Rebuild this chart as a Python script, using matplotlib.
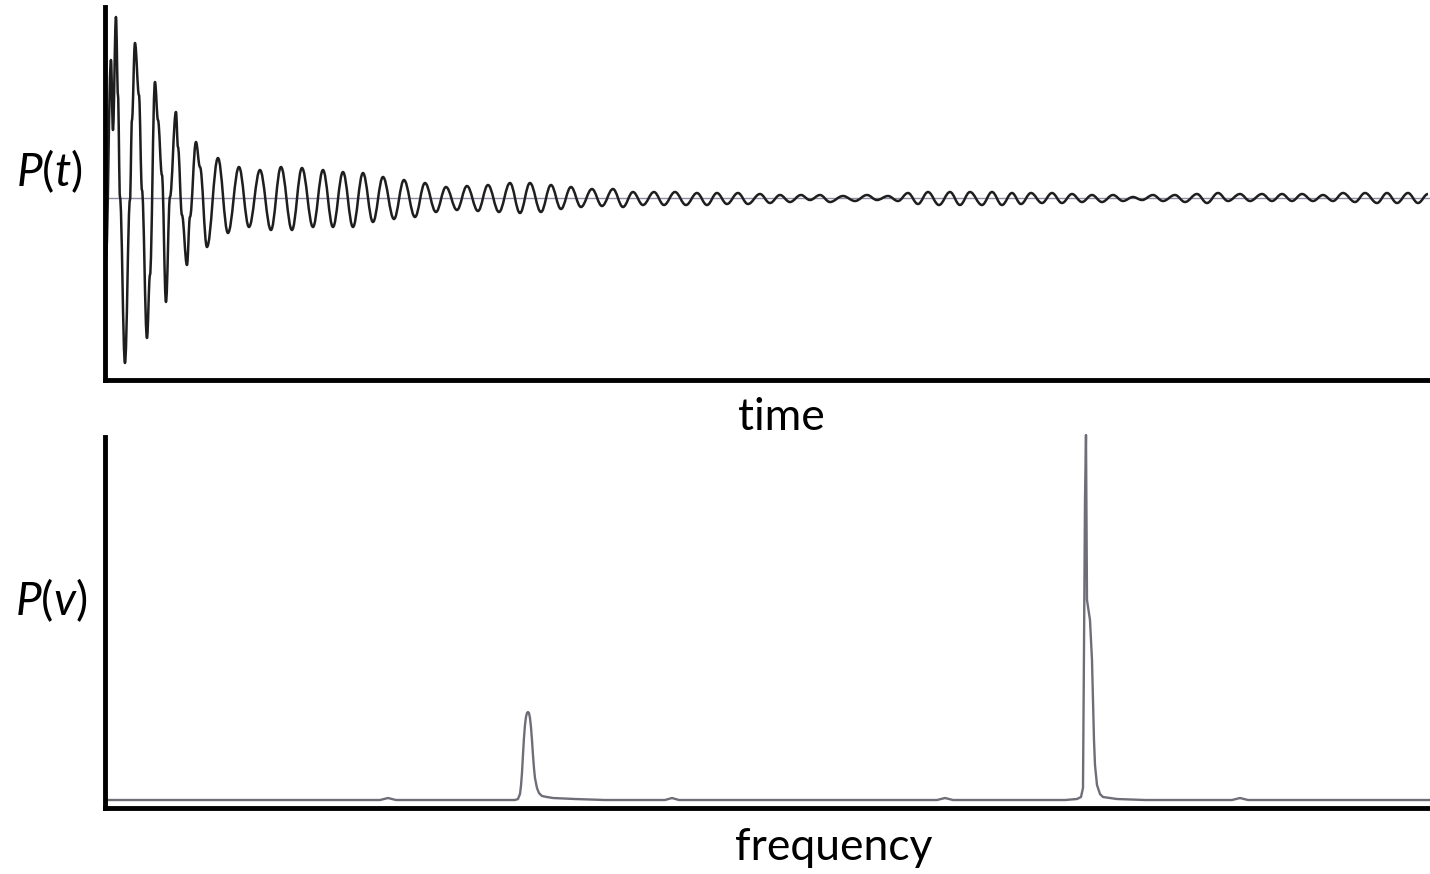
## FID signal and its spectrum
import numpy as np
import matplotlib
matplotlib.use("Agg")
import matplotlib.pyplot as plt
from matplotlib.path import Path
from matplotlib.patches import PathPatch

plt.rcParams['font.family'] = ['Lato', 'DejaVu Sans']
plt.rcParams['mathtext.fontset'] = 'custom'
plt.rcParams['mathtext.it'] = 'Lato:italic'
plt.rcParams['mathtext.rm'] = 'Lato'

# time signal (turning points and shoulders)
t_fid = [1, 6, 8, 11, 13, 15, 20, 25, 27, 30, 34, 37, 42, 45, 50, 53, 57, 61,
         65, 71, 73, 77, 82, 85, 91, 95, 102, 113, 123, 134, 144, 155, 166,
         176, 187, 197, 208, 218, 228, 238, 248, 258, 268, 278, 289, 299, 310,
         320, 331, 341, 352, 362, 373, 383, 394, 405, 415, 425, 436, 446, 456,
         466, 476, 487, 497, 508, 518, 528, 538, 549, 559, 570, 581, 592, 602,
         612, 622, 633, 643, 655, 665, 675, 685, 696, 705, 715, 725, 738, 750,
         762, 772, 783, 793, 803, 813, 823, 834, 845, 855, 865, 877, 887, 897,
         907, 916, 926, 937, 947, 957, 967, 977, 987, 997, 1008, 1018, 1028,
         1037, 1048, 1058, 1070, 1080, 1092, 1102, 1113, 1123, 1135, 1145, 1157,
         1167, 1177, 1187, 1197, 1208, 1218, 1228, 1238, 1250, 1260, 1272, 1282,
         1292, 1303, 1313, 1323]
p_fid = [-60, 138, 68, 181, 103, 1, -165, -2, 78, 155, 103, 8, -140, -77, 116,
         78, 23, -104, 1, 86, 51, -17, -67, -19, 56, 31, -49, 40, -35, 31, -29,
         28, -32, 31, -32, 30, -29, 28, -29, 26, -29, 25, -24, 21, -21, 18, -19,
         15, -14, 11, -12, 12, -13, 13, -14, 15, -15, 15, -14, 13, -11, 11, -9,
         9, -8, 9, -9, 6, -7, 6, -7, 6, -7, 5, -7, 5, -6, 5, -6, 4, -5, 3, -4,
         3, -2, 3, -4, 2, -3, 3, -2, 2, -3, 5, -6, 6, -7, 6, -7, 6, -7, 6, -7,
         5, -6, 5, -5, 5, -5, 4, -4, 3, -4, 3, -3, 1, -2, 3, -3, 3, -4, 4, -5,
         5, -3, 4, -3, 4, -3, 4, -3, 4, -3, 3, -3, 5, -4, 5, -5, 5, -5, 5, -5, 4]

# spectrum
f_spec = [0, 275, 283, 291, 410, 413, 415, 416, 417, 418, 419, 420, 421, 422,
          423, 424, 425, 426, 427, 428, 429, 430, 432, 434, 437, 442, 448, 470,
          500, 560, 567, 574, 832, 840, 848, 960, 972, 976, 978, 979, 980, 981,
          982, 985, 987, 988, 989, 990, 992, 995, 998, 1005, 1012, 1040, 1127,
          1135, 1143, 1325]
i_spec = [0, 0, 2, 0, 0, 1, 6, 14, 27, 45, 62, 75, 83, 87, 88, 87, 82, 73, 60,
          45, 32, 22, 12, 7, 4, 3, 2, 1, 0, 0, 2, 0, 0, 2, 0, 0, 1, 3, 12, 150,
          300, 365, 200, 180, 140, 100, 60, 35, 15, 6, 3, 2, 1, 0, 0, 2, 0, 0]

fig = plt.figure(figsize=(14.3, 8.74), dpi=100)
ax1 = fig.add_axes([0.0734, 0.5652, 0.9266, 0.4268])
ax2 = fig.add_axes([0.0734, 0.0755, 0.9266, 0.4245])

ax1.axhline(0, color='#8c8ca4', lw=1.0, zorder=1)

# smooth the trace between the read points: flat tangents at each point
verts = [(t_fid[0], p_fid[0])]
codes = [Path.MOVETO]
for i in range(len(t_fid) - 1):
    x0, y0, x1, y1 = t_fid[i], p_fid[i], t_fid[i + 1], p_fid[i + 1]
    dx = x1 - x0
    verts += [(x0 + 0.38 * dx, y0), (x1 - 0.38 * dx, y1), (x1, y1)]
    codes += [Path.CURVE4] * 3
ax1.add_patch(PathPatch(Path(verts, codes), fill=False, edgecolor='#1e1e1e',
                        lw=1.8, joinstyle='round', zorder=2))
ax1.set_xlim(0, 1325)
ax1.set_ylim(-182, 191)

ax2.plot(f_spec, i_spec, color='#6e6e78', lw=1.7, clip_on=False,
         solid_joinstyle='round')
ax2.set_xlim(0, 1325)
ax2.set_ylim(-8, 363)

for ax in (ax1, ax2):
    ax.spines['top'].set_visible(False)
    ax.spines['right'].set_visible(False)
    for s in ('left', 'bottom'):
        ax.spines[s].set_linewidth(3.5)
        ax.spines[s].set_color('black')
    ax.set_xticks([])
    ax.set_yticks([])
    ax.patch.set_alpha(0)

fig.text(49 / 1430, 1 - 171 / 874, r'$P(t)$', fontsize=33, ha='center', va='center')
fig.text(51 / 1430, 1 - 600 / 874, r'$P(v)$', fontsize=33, ha='center', va='center')
fig.text(781 / 1430, 1 - 418 / 874, 'time', fontsize=32, ha='center', va='center')
fig.text(834 / 1430, 1 - 848 / 874, 'frequency', fontsize=32, ha='center', va='center')

plt.savefig('out.png', dpi=100)
